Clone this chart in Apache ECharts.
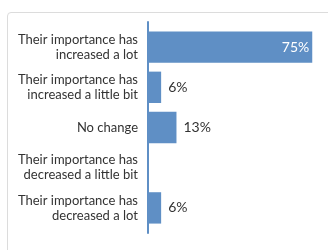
<!DOCTYPE html>
<html>
<head>
<meta charset="utf-8">
<script src="https://cdn.jsdelivr.net/npm/echarts@6/dist/echarts.min.js"></script>
<style>
    html, body { margin: 0; padding: 0; background: #fff; }
    #frame {
        position: absolute; left: 7px; top: 12px; width: 340px; height: 260px;
        border: 1px solid #dcdcdc; border-radius: 4px; box-sizing: border-box;
    }
    #chart { position: absolute; left: 0; top: 0; width: 328px; height: 250px; }
</style>
</head>
<body>
<div id="frame"></div>
<div id="chart"></div>
<script>
const categories = [
    'Their importance has\nincreased a lot',
    'Their importance has\nincreased a little bit',
    'No change',
    'Their importance has\ndecreased a little bit',
    'Their importance has\ndecreased a lot'
]
const values = [75, 6, 13, 0, 6]

const barColor = '#5f8fc5'
const textColor = '#333'
const font = 'Lato'

const chart = echarts.init(document.getElementById('chart'), null, { renderer: 'canvas' })

chart.setOption({
    animation: false,
    grid: [
        { left: 148, top: 27, width: 219, height: 201, outerBoundsMode: 'none' },
        // taller grid only for the axis line, which runs past the bars
        { left: 148, top: 22, width: 219, height: 211, outerBoundsMode: 'none' }
    ],
    xAxis: [
        { type: 'value', min: 0, max: 100, show: false, gridIndex: 0 },
        { type: 'value', min: 0, max: 100, show: false, gridIndex: 1 }
    ],
    yAxis: [
        {
            type: 'category',
            gridIndex: 0,
            inverse: true,
            data: categories,
            axisTick: { show: false },
            axisLine: { show: false },
            axisLabel: {
                color: textColor, fontFamily: font, fontSize: 13,
                lineHeight: 15, margin: 10, align: 'right'
            }
        },
        {
            type: 'value',
            gridIndex: 1,
            axisLine: { show: true, lineStyle: { color: barColor, width: 2 } },
            axisTick: { show: false },
            axisLabel: { show: false },
            splitLine: { show: false }
        }
    ],
    series: [{
        type: 'bar',
        xAxisIndex: 0,
        yAxisIndex: 0,
        data: values.map(v => ({
            value: v,
            label: v > 50
                ? { position: 'insideRight', color: '#fff', distance: 3 }
                : { position: 'right', color: textColor, distance: 7 }
        })),
        barCategoryGap: '22%',
        itemStyle: { color: barColor },
        label: {
            show: true,
            fontFamily: font, fontSize: 14,
            formatter: p => p.value ? p.value + '%' : ''
        }
    }]
})
</script>
</body>
</html>
